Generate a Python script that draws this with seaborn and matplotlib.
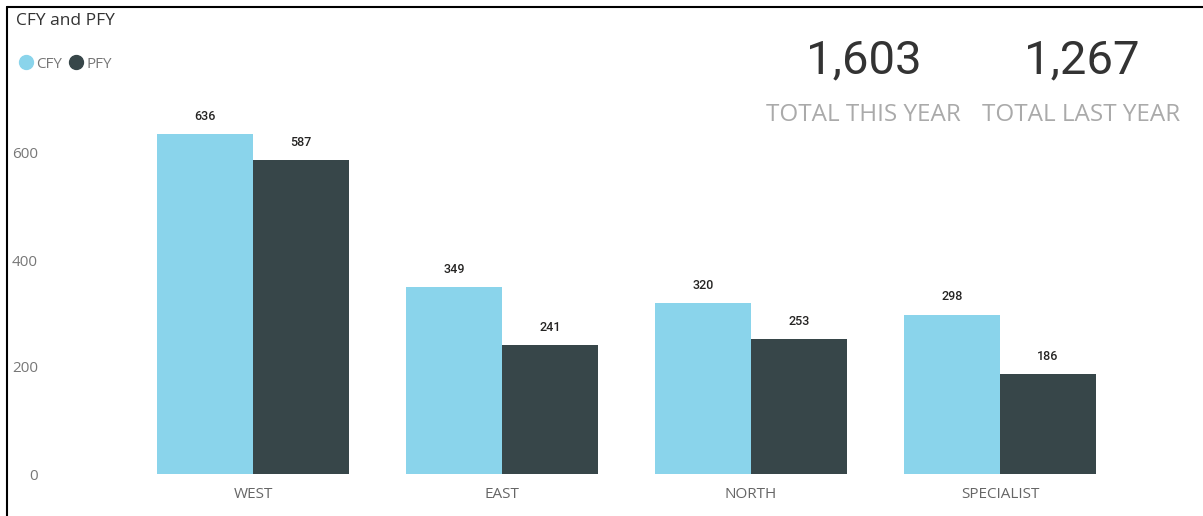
import matplotlib
matplotlib.use("Agg")
import matplotlib.pyplot as plt
from matplotlib.lines import Line2D
import seaborn as sns
import pandas as pd

# ---- data ----
categories = ["WEST", "EAST", "NORTH", "SPECIALIST"]
series_names = ["CFY", "PFY"]
cfy_values = [636, 349, 320, 298]
pfy_values = [587, 241, 253, 186]
total_this_year = "1,603"
total_last_year = "1,267"
y_ticks = [0, 200, 400, 600]

colors = {"CFY": "#8AD4EB", "PFY": "#374649"}

df = pd.DataFrame({
    "region": categories * 2,
    "series": ["CFY"] * len(categories) + ["PFY"] * len(categories),
    "value": cfy_values + pfy_values,
})

sns.set_style("white")
plt.rcParams["font.family"] = ["Open Sans", "DejaVu Sans"]

W, H = 1203, 516
fig = plt.figure(figsize=(W / 100, H / 100), dpi=100)

left_px, right_px, top_px, bottom_px = 60, 1190, 90, 474
ax = fig.add_axes([left_px / W, (H - bottom_px) / H,
                   (right_px - left_px) / W, (bottom_px - top_px) / H])

sns.barplot(data=df, x="region", y="value", hue="series", order=categories,
            hue_order=series_names, palette=colors, width=0.77,
            saturation=1, legend=False, ax=ax, errorbar=None, linewidth=0)

# axis scaling: 0 at 474px, 600 at 153px
px_per_unit = (474 - 153) / 600
ax.set_ylim(0, (bottom_px - top_px) / px_per_unit)
spacing = 249
ax.set_xlim(-(253 - left_px) / spacing, 3 + (right_px - 1000) / spacing)

for c in ax.containers:
    ax.bar_label(c, fmt="%d", padding=8, fontsize=9, color="#252423",
                 family="Roboto", fontweight="medium")

ax.set_yticks(y_ticks)
ax.set_yticklabels([str(v) for v in y_ticks])
ax.tick_params(axis="y", length=0, pad=16, labelsize=11, labelcolor="#777777")
ax.tick_params(axis="x", length=0, pad=9, labelsize=11, labelcolor="#666666")
ax.set_xlabel("")
ax.set_ylabel("")
for s in ax.spines.values():
    s.set_visible(False)
ax.grid(False)

# title
fig.text(16 / W, 1 - 21 / H, "CFY and PFY", fontsize=12.5, color="#333333",
         va="center", ha="left")

# legend
handles = [Line2D([], [], marker="o", linestyle="", markersize=10,
                  markerfacecolor=colors[n], markeredgecolor=colors[n])
           for n in series_names]
leg = fig.legend(handles, series_names, loc="center left",
                 bbox_to_anchor=(12 / W, 1 - 64 / H), ncol=2, frameon=False,
                 handlelength=0.8, handletextpad=0.3, columnspacing=0.5,
                 borderpad=0, fontsize=11)
for t in leg.get_texts():
    t.set_color("#777777")

# KPI cards
fig.text(864 / W, 1 - 60 / H, total_this_year, fontsize=34, color="#333333",
         ha="center", va="center", family="Roboto")
fig.text(1082 / W, 1 - 60 / H, total_last_year, fontsize=34, color="#333333",
         ha="center", va="center", family="Roboto")
fig.text(863 / W, 1 - 115 / H, "TOTAL THIS YEAR", fontsize=17.5,
         color="#AAAAAA", ha="center", va="center")
fig.text(1081 / W, 1 - 115 / H, "TOTAL LAST YEAR", fontsize=17.5,
         color="#AAAAAA", ha="center", va="center")

# border (top and left)
fig.add_artist(Line2D([7 / W, 7 / W], [0, 1 - 7 / H], transform=fig.transFigure,
                      color="black", linewidth=1.5))
fig.add_artist(Line2D([7 / W, 1], [1 - 7 / H, 1 - 7 / H], transform=fig.transFigure,
                      color="black", linewidth=1.5))

fig.savefig("out.png", dpi=100, facecolor="white")
